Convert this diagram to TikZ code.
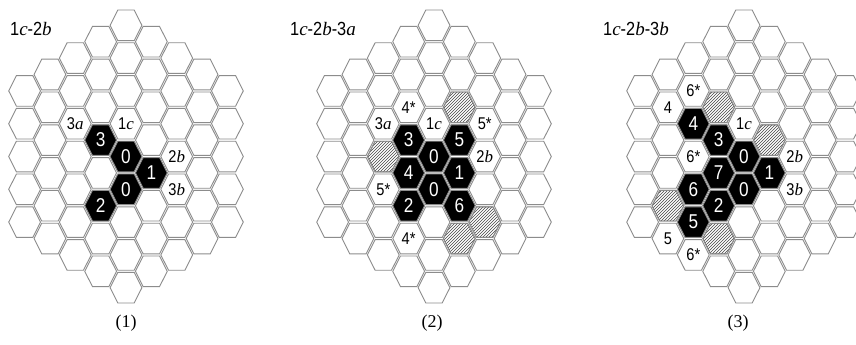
\documentclass[tikz,border=0pt]{standalone}
\usepackage{fontspec}
\setmainfont{Liberation Serif}
\newfontfamily\cellfont[FakeStretch=0.86]{Liberation Sans}
\usepackage{tikz}
\usetikzlibrary{patterns}

\definecolor{hexgray}{RGB}{140,140,140}
\newcommand{\hexdx}{25.35}
\newcommand{\hexdy}{32.8}
% one hexagon of the board, column #2, row #3
\newcommand{\hexcell}[3][cell]{%
  \path[#1, hexshift={#2}{#3}] (-15.9,0) -- (-8.2,-15.3) -- (8.2,-15.3) -- (15.9,0) -- (8.2,15.3) -- (-8.2,15.3) -- cycle;}
% empty board of side 5
\newcommand{\board}{%
  \foreach \col in {-4,...,4} {
    \pgfmathtruncatemacro{\rowlo}{max(-4,-4-\col)}
    \pgfmathtruncatemacro{\rowhi}{min(4,4-\col)}
    \foreach \row in {\rowlo,...,\rowhi} {\hexcell{\col}{\row}}
  }}
\newcommand{\cvar}[1]{{\rmfamily\itshape #1}}

\tikzset{
  hexshift/.style 2 args={shift={({(#1)*\hexdx},{((#2)+(#1)/2)*\hexdy})}},
  cellat/.style 2 args={at={({(#1)*\hexdx},{((#2)+(#1)/2)*\hexdy})}},
  cell/.style={draw=hexgray, line width=0.9pt, fill=white},
  stone/.style={cell, fill=black},
  hatched/.style={cell, pattern=north east lines, pattern color=hexgray!50!black},
  stonelab/.style={text=white, inner sep=0pt, font=\cellfont\fontsize{20}{20}\selectfont},
  marklab/.style={inner sep=0pt, font=\cellfont\fontsize{17}{17}\selectfont},
  title/.style={anchor=base west, inner sep=0pt, font=\cellfont\fontsize{19}{19}\selectfont},
  caption/.style={inner sep=0pt, font=\fontsize{18}{18}\selectfont}
}

\begin{document}
\begin{tikzpicture}[x=1pt, y=-1pt]
\fill[white] (0,0) rectangle (856,345);
\useasboundingbox (0,0) rectangle (856,345);

% (1) 1c-2b
\node[title] (t1) at (10,36) {1\cvar{c}-2\cvar{b}};
\begin{scope}[shift={(126,156.5)}]
  \board
  \foreach \col/\row in {-1/0, 0/0, 1/0, 0/1, -1/2} {\hexcell[stone]{\col}{\row}}
  \node[stonelab, cellat={-1}{0}] (a3) {3};
  \node[stonelab, cellat={0}{0}] (a0) {0};
  \node[stonelab, cellat={1}{0}] (a1) {1};
  \node[stonelab, cellat={0}{1}] (a0b) {0};
  \node[stonelab, cellat={-1}{2}] (a2) {2};
  \node[marklab, cellat={-2}{0}] (a3a) {3\cvar{a}};
  \node[marklab, cellat={0}{-1}] (a1c) {1\cvar{c}};
  \node[marklab, cellat={2}{-1}] (a2b) {2\cvar{b}};
  \node[marklab, cellat={2}{0}] (a3b) {3\cvar{b}};
\end{scope}
\node[caption] (c1) at (126,323) {(1)};

% (2) 1c-2b-3a
\node[title] (t2) at (290,36) {1\cvar{c}-2\cvar{b}-3\cvar{a}};
\begin{scope}[shift={(434,156.5)}]
  \board
  \foreach \col/\row in {-1/0, 1/-1, 0/0, -1/1, 1/0, 0/1, -1/2, 1/1} {\hexcell[stone]{\col}{\row}}
  \foreach \col/\row in {1/-2, -2/1, 2/1, 1/2} {\hexcell[hatched]{\col}{\row}}
  \node[stonelab, cellat={-1}{0}] (b3) {3};
  \node[stonelab, cellat={1}{-1}] (b5) {5};
  \node[stonelab, cellat={0}{0}] (b0) {0};
  \node[stonelab, cellat={-1}{1}] (b4) {4};
  \node[stonelab, cellat={1}{0}] (b1) {1};
  \node[stonelab, cellat={0}{1}] (b0b) {0};
  \node[stonelab, cellat={-1}{2}] (b2) {2};
  \node[stonelab, cellat={1}{1}] (b6) {6};
  \node[marklab, cellat={-1}{-1}] (b4s) {4*};
  \node[marklab, cellat={-2}{0}] (b3a) {3\cvar{a}};
  \node[marklab, cellat={0}{-1}] (b1c) {1\cvar{c}};
  \node[marklab, cellat={2}{-2}] (b5s) {5*};
  \node[marklab, cellat={2}{-1}] (b2b) {2\cvar{b}};
  \node[marklab, cellat={-2}{2}] (b5t) {5*};
  \node[marklab, cellat={-1}{3}] (b4t) {4*};
\end{scope}
\node[caption] (c2) at (432,323) {(2)};

% (3) 1c-2b-3b
\node[title] (t3) at (603,36) {1\cvar{c}-2\cvar{b}-3\cvar{b}};
\begin{scope}[shift={(744,156.5)}]
  \board
  \foreach \col/\row in {-2/0, -1/0, 0/0, -1/1, 1/0, -2/2, 0/1, -1/2, -2/3} {\hexcell[stone]{\col}{\row}}
  \foreach \col/\row in {-1/-1, 1/-1, -3/3, -1/3} {\hexcell[hatched]{\col}{\row}}
  \node[stonelab, cellat={-2}{0}] (c4) {4};
  \node[stonelab, cellat={-1}{0}] (c3) {3};
  \node[stonelab, cellat={0}{0}] (c0) {0};
  \node[stonelab, cellat={-1}{1}] (c7) {7};
  \node[stonelab, cellat={1}{0}] (c1) {1};
  \node[stonelab, cellat={-2}{2}] (c6) {6};
  \node[stonelab, cellat={0}{1}] (c0b) {0};
  \node[stonelab, cellat={-1}{2}] (c2) {2};
  \node[stonelab, cellat={-2}{3}] (c5) {5};
  \node[marklab, cellat={-2}{-1}] (c6s) {6*};
  \node[marklab, cellat={-3}{0}] (c4w) {4};
  \node[marklab, cellat={0}{-1}] (c1c) {1\cvar{c}};
  \node[marklab, cellat={-2}{1}] (c6t) {6*};
  \node[marklab, cellat={2}{-1}] (c2b) {2\cvar{b}};
  \node[marklab, cellat={2}{0}] (c3b) {3\cvar{b}};
  \node[marklab, cellat={-3}{4}] (c5w) {5};
  \node[marklab, cellat={-2}{4}] (c6u) {6*};
\end{scope}
\node[caption] (c3cap) at (738,323) {(3)};
\end{tikzpicture}
\end{document}
